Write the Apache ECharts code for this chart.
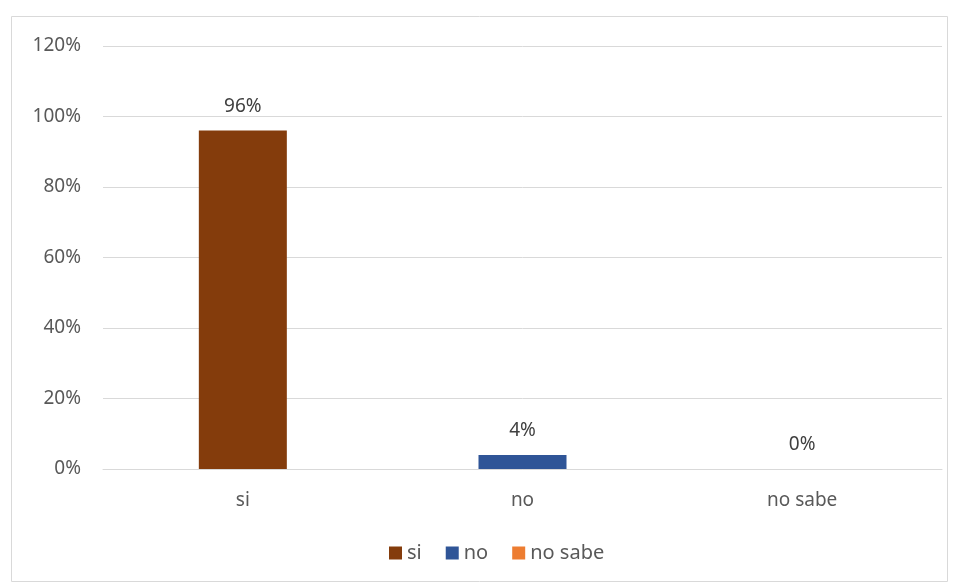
<!DOCTYPE html>
<html><head><meta charset="utf-8">
<script src="https://cdn.jsdelivr.net/npm/echarts@6/dist/echarts.min.js"></script>
<style>html,body{margin:0;padding:0;background:#fff}#c{width:958px;height:585px}</style>
</head><body><div id="c"></div>
<script>
const categories = ['si', 'no', 'no sabe'];
const seriesNames = ['si', 'no', 'no sabe'];
const values = [96, 4, 0];
const colors = ['#843C0C', '#2F5597', '#ED7D31'];
const yTicks = [0, 20, 40, 60, 80, 100, 120];

const chart = echarts.init(document.getElementById('c'), null, {renderer: 'canvas'});
const font = 'Noto Sans';
const fs = 19;
const series = seriesNames.map((n, i) => ({
  name: n,
  type: 'bar',
  stack: 'all',
  barWidth: 88,
  itemStyle: {color: colors[i]},
  label: {show: true, position: 'top', distance: 15, formatter: p => p.value + '%', color: '#404040', fontFamily: font, fontSize: fs},
  data: categories.map((c, j) => j === i ? values[i] : '-')
}));
chart.setOption({
  animation: false,
  textStyle: {fontFamily: font},
  graphic: [{type: 'rect', shape: {x: 11.5, y: 16.5, width: 936, height: 565}, style: {fill: 'none', stroke: '#d9d9d9', lineWidth: 1}}],
  grid: {left: 103, right: 16, top: 46, bottom: 116, containLabel: false},
  legend: {bottom: 17, left: 384, itemWidth: 13, itemHeight: 13, itemGap: 24, icon: 'rect',
    textStyle: {color: '#595959', fontSize: 20, fontFamily: font}, data: seriesNames},
  xAxis: {type: 'category', data: categories,
    axisLine: {lineStyle: {color: '#d9d9d9', width: 1}}, axisTick: {show: false},
    axisLabel: {color: '#595959', fontSize: fs, fontFamily: font, margin: 22}},
  yAxis: {type: 'value', min: yTicks[0], max: yTicks[yTicks.length - 1], interval: 20,
    axisLine: {show: false}, axisTick: {show: false},
    splitLine: {lineStyle: {color: '#d9d9d9', width: 1}},
    axisLabel: {color: '#595959', fontSize: fs, fontFamily: font, margin: 22, formatter: v => v + '%'}},
  series: series
});
</script></body></html>
